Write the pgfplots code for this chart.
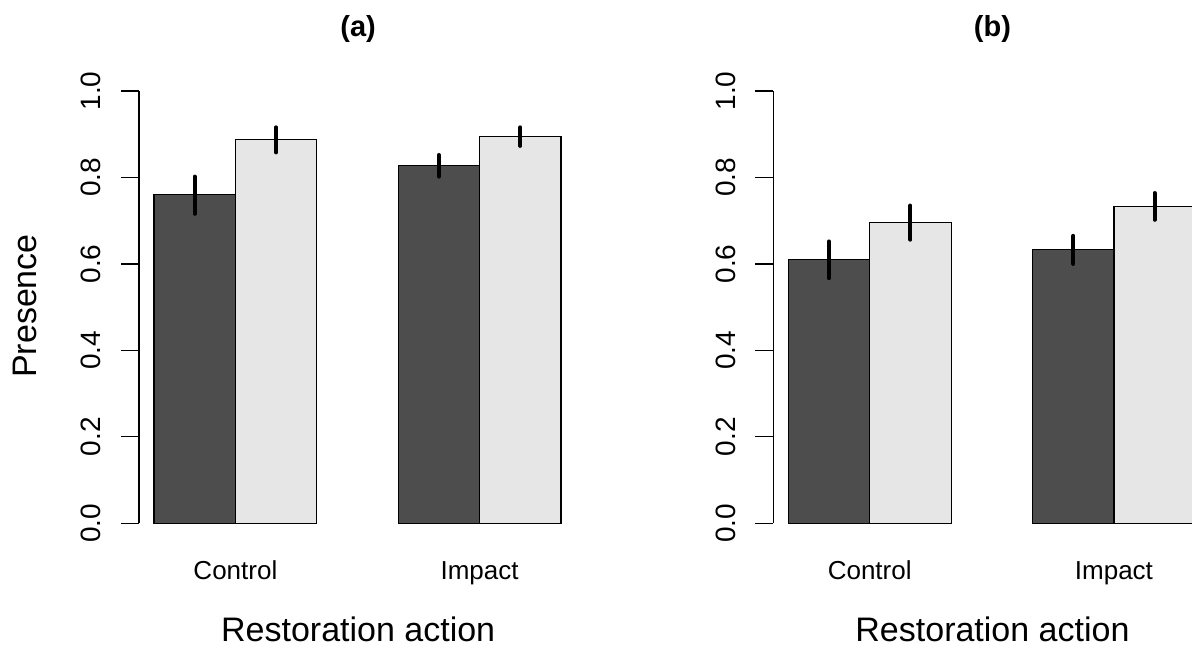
\documentclass[border=0pt]{standalone}
\usepackage{fontspec}
\setmainfont{Liberation Sans}
\usepackage{pgfplots}
\pgfplotsset{compat=1.18}
\definecolor{darkbar}{HTML}{4D4D4D}
\definecolor{lightbar}{HTML}{E6E6E6}
\pgfplotsset{panel/.style={
  scale only axis, width=219.15pt, height=216.15pt,
  xmin=0.816, xmax=6.2, ymin=0, ymax=1,
  clip=false,
  axis x line=none, axis y line*=left,
  y axis line style={line width=0.6pt, -},
  ytick={0,0.2,0.4,0.6,0.8,1.0}, yticklabels={0.0,0.2,0.4,0.6,0.8,1.0},
  ytick style={line width=0.6pt, black},
  tick align=outside, major tick length=9pt,
  yticklabel style={rotate=90, anchor=south, inner sep=0pt, yshift=9.7pt, font=\fontsize{14}{14}\selectfont},
  ybar, bar width=1, bar shift=0,
  anchor=south west,
},
errs/.style={error bars/.cd, y dir=both, y explicit, error mark=none,
  error bar style={line width=2pt, line cap=round, black}},
}
\begin{document}
\begin{tikzpicture}
\useasboundingbox (0,0) rectangle (596pt,324pt);
\clip (0,0) rectangle (596pt,324pt);
\node[rotate=90, anchor=base, font=\fontsize{17}{17}\selectfont] at (18.35pt,171pt) {Presence};
% panel (a)
\begin{axis}[panel, at={(69.5pt,62.35pt)}]
\addplot[fill=darkbar, draw=black, line width=0.6pt, errs] coordinates {
 (1.5,0.760) += (0,0.042) -= (0,0.044)
 (4.5,0.827) += (0,0.025) -= (0,0.025)
};
\addplot[fill=lightbar, draw=black, line width=0.6pt, errs] coordinates {
 (2.5,0.887) += (0,0.029) -= (0,0.029)
 (5.5,0.894) += (0,0.022) -= (0,0.021)
};
\node[anchor=base, font=\fontsize{13}{13}\selectfont] at (axis cs:2,-0.131) {Control};
\node[anchor=base, font=\fontsize{13}{13}\selectfont] at (axis cs:5,-0.131) {Impact};
\node[anchor=base, font=\fontsize{17}{17}\selectfont] at (rel axis cs:0.5,-0.274) {Restoration action};
\node[anchor=base, font=\fontsize{14.5}{14.5}\selectfont\bfseries] at (rel axis cs:0.5,1.125) {(a)};
\end{axis}
% panel (b)
\begin{axis}[panel, at={(386.65pt,62.35pt)}]
\addplot[fill=darkbar, draw=black, line width=0.6pt, errs] coordinates {
 (1.5,0.611) += (0,0.041) -= (0,0.044)
 (4.5,0.633) += (0,0.032) -= (0,0.033)
};
\addplot[fill=lightbar, draw=black, line width=0.6pt, errs] coordinates {
 (2.5,0.696) += (0,0.039) -= (0,0.040)
 (5.5,0.732) += (0,0.032) -= (0,0.030)
};
\node[anchor=base, font=\fontsize{13}{13}\selectfont] at (axis cs:2,-0.131) {Control};
\node[anchor=base, font=\fontsize{13}{13}\selectfont] at (axis cs:5,-0.131) {Impact};
\node[anchor=base, font=\fontsize{17}{17}\selectfont] at (rel axis cs:0.5,-0.274) {Restoration action};
\node[anchor=base, font=\fontsize{14.5}{14.5}\selectfont\bfseries] at (rel axis cs:0.5,1.125) {(b)};
\end{axis}
\end{tikzpicture}
\end{document}
